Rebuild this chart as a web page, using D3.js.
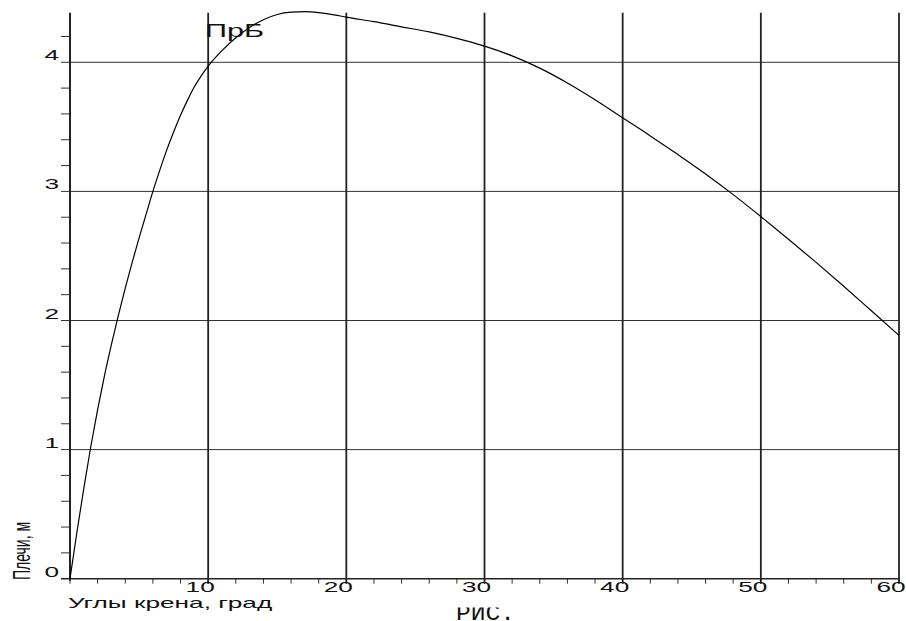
<!DOCTYPE html>
<html>
<head>
<meta charset="utf-8">
<script src="https://cdn.jsdelivr.net/npm/d3@7"></script>
<style>
  html, body { margin: 0; padding: 0; background: #fff; }
  svg { display: block; }
  text { font-family: "Liberation Sans", Arial, sans-serif; fill: #111; }
</style>
</head>
<body>
<svg id="chart" width="906" height="621"></svg>
<script>
// Righting-lever curve: heel angle (deg) vs lever (m)
const heelAngles = [0, 0.5, 1, 1.5, 2, 2.5, 3, 3.5, 4, 4.5, 5, 5.5, 6, 6.5, 7, 7.5, 8, 8.5, 9, 9.5, 10,
  11, 12, 13, 14, 15, 16, 17, 18, 19, 20,
  22, 24, 26, 28, 30, 32, 34, 36, 38, 40, 42, 44, 46, 48, 50, 52, 54, 56, 58, 60];
const leverValues = [0, 0.36, 0.70, 1.02, 1.31, 1.575, 1.815, 2.04, 2.25, 2.45, 2.64, 2.82, 3.00, 3.165, 3.32, 3.46, 3.59, 3.705, 3.81, 3.895, 3.97,
  4.09, 4.19, 4.27, 4.33, 4.37, 4.388, 4.392, 4.385, 4.37, 4.35,
  4.315, 4.275, 4.235, 4.185, 4.125, 4.05, 3.955, 3.84, 3.71, 3.57, 3.43, 3.285, 3.135, 2.975, 2.805, 2.63, 2.45, 2.265, 2.075, 1.885];

const xTickValues = [10, 20, 30, 40, 50, 60];
const xTickLabels = ["10", "20", "30", "40", "50", "60"];
const yTickValues = [0, 1, 2, 3, 4];
const yTickLabels = ["0", "1", "2", "3", "4"];

const curveLabel = "ПрБ";
const xTitle = "Углы крена, град";
const yTitle = "Плечи, м";
const caption = "РИС.";

const svg = d3.select("#chart");
const x = d3.scaleLinear().domain([0, 60]).range([70, 899]);
const y = d3.scaleLinear().domain([0, 4]).range([578.7, 62.3]);
const yTop = 4.384;          // upper end of the axis and vertical grid lines
const stretch = 1.75;        // wide lettering used throughout the chart

// horizontal grid lines (with their left tick stubs)
svg.append("g").selectAll("line")
  .data(yTickValues.filter(v => v > 0))
  .join("line")
  .attr("x1", 61).attr("x2", x(60))
  .attr("y1", d => y(d)).attr("y2", d => y(d))
  .attr("stroke", "#333").attr("stroke-width", 1);

// minor ticks on the lever axis every 0.2 m
svg.append("g").selectAll("line")
  .data(d3.range(0, 4.3, 0.2).filter(v => Math.abs(v - Math.round(v)) > 1e-6))
  .join("line")
  .attr("x1", 61).attr("x2", x(0))
  .attr("y1", d => y(d)).attr("y2", d => y(d))
  .attr("stroke", "#333").attr("stroke-width", 1);

// ticks under the heel axis every 2 degrees
svg.append("g").selectAll("line")
  .data(d3.range(0, 61, 2))
  .join("line")
  .attr("x1", d => x(d)).attr("x2", d => x(d))
  .attr("y1", y(0)).attr("y2", y(0) + 5)
  .attr("stroke", "#333").attr("stroke-width", 1);

// vertical grid lines every 10 degrees
svg.append("g").selectAll("line")
  .data(xTickValues)
  .join("line")
  .attr("x1", d => x(d)).attr("x2", d => x(d))
  .attr("y1", y(yTop)).attr("y2", y(0) + 5)
  .attr("stroke", "#222").attr("stroke-width", 1.8);

// axes
svg.append("line")
  .attr("x1", 61).attr("x2", x(60) + 1)
  .attr("y1", y(0)).attr("y2", y(0))
  .attr("stroke", "#222").attr("stroke-width", 1.6);
svg.append("line")
  .attr("x1", x(0)).attr("x2", x(0))
  .attr("y1", y(yTop)).attr("y2", y(0) + 2)
  .attr("stroke", "#222").attr("stroke-width", 2);

// lever curve
const pts = heelAngles.map((a, i) => [a, leverValues[i]]);
svg.append("path")
  .datum(pts)
  .attr("fill", "none")
  .attr("stroke", "#000")
  .attr("stroke-width", 1.2)
  .attr("d", d3.line().x(d => x(d[0])).y(d => y(d[1])).curve(d3.curveMonotoneX));

// tick labels
svg.append("g").selectAll("text")
  .data(yTickValues)
  .join("text")
  .attr("transform", d => `translate(59,${y(d) - 2}) scale(${stretch},1)`)
  .attr("text-anchor", "end")
  .attr("font-size", 15)
  .text((d, i) => yTickLabels[i]);

svg.append("g").selectAll("text")
  .data(xTickValues)
  .join("text")
  .attr("transform", d => `translate(${x(d) - 8},592) scale(${stretch},1)`)
  .attr("text-anchor", "middle")
  .attr("font-size", 15)
  .text((d, i) => xTickLabels[i]);

// axis titles
svg.append("text")
  .attr("transform", `translate(68,607.5) scale(${stretch},1)`)
  .attr("font-size", 15)
  .text(xTitle);

svg.append("text")
  .attr("transform", `translate(30,580) scale(${stretch},1) rotate(-90)`)
  .attr("font-size", 14)
  .text(yTitle);

// curve name
svg.append("text")
  .attr("transform", `translate(205,36.5) scale(${stretch},1)`)
  .attr("font-size", 17.5)
  .text(curveLabel);

// figure caption, its upper part hidden beneath the chart area
svg.append("clipPath").attr("id", "capClip")
  .append("rect").attr("x", 400).attr("y", 607.5).attr("width", 200).attr("height", 20);
svg.append("g")
  .attr("clip-path", "url(#capClip)")
  .append("text")
  .attr("transform", "translate(456,619.5) scale(1.12,1)")
  .style("font-family", "'Liberation Mono', 'DejaVu Sans Mono', monospace")
  .attr("font-size", 22)
  .attr("fill", "#222")
  .text(caption);
</script>
</body>
</html>
